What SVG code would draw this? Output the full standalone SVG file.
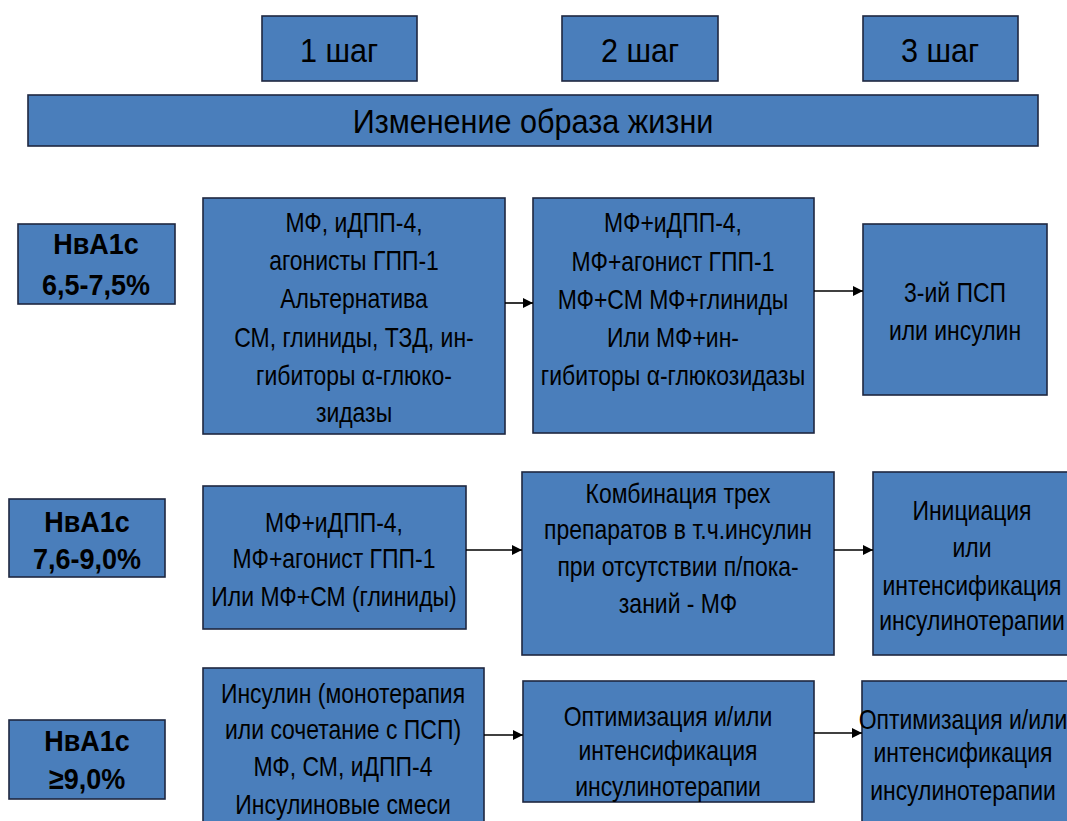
<svg xmlns="http://www.w3.org/2000/svg" width="1067" height="821" viewBox="0 0 1067 821">
<defs>
<style>
.box{fill:#4a7ebb;stroke:#1e2740;stroke-width:1.6}
.t{font-family:"Liberation Sans",Arial,sans-serif;fill:#000;text-anchor:middle;dominant-baseline:central}
.s{font-size:32px}
.l{font-size:34px}
.m{font-size:28px}
.b{font-size:30px;font-weight:bold}
.c{stroke:#000;stroke-width:1.6;fill:none;marker-end:url(#ah)}
</style>
<marker id="ah" viewBox="0 0 10 10" refX="10" refY="5" markerWidth="10" markerHeight="10" markerUnits="userSpaceOnUse" orient="auto">
<path d="M0,0 L10,5 L0,10 z" fill="#000"/>
</marker>
</defs>
<rect width="1067" height="821" fill="#fff"/>
<g id="step1"><rect class="box" x="262" y="16" width="155" height="65"/><g transform="translate(339,0) scale(0.9,1)"><text class="t l" x="0" y="50">1 шаг</text></g></g>
<g id="step2"><rect class="box" x="562" y="16" width="156" height="65"/><g transform="translate(640,0) scale(0.9,1)"><text class="t l" x="0" y="50">2 шаг</text></g></g>
<g id="step3"><rect class="box" x="863" y="16" width="155" height="65"/><g transform="translate(940,0) scale(0.9,1)"><text class="t l" x="0" y="50">3 шаг</text></g></g>
<g id="lifestyle"><rect class="box" x="28" y="95" width="1010" height="51"/><g transform="translate(533,0) scale(0.9,1)"><text class="t l" x="0" y="121">Изменение образа жизни</text></g></g>

<g id="hba1"><rect class="box" x="18" y="224" width="157" height="80"/><g transform="translate(96,0) scale(0.9,1)"><text class="t b" x="0" y="244">НвА1с</text><text class="t b" x="0" y="284">6,5-7,5%</text></g></g>
<g id="r1s1"><rect class="box" x="203" y="198" width="302" height="236"/>
<g transform="translate(354,0) scale(0.82,1)">
<text class="t m" x="0" y="222">МФ, иДПП-4,</text>
<text class="t m" x="0" y="260">агонисты ГПП-1</text>
<text class="t m" x="0" y="298">Альтернатива</text>
<text class="t m" x="0" y="337">СМ, глиниды, ТЗД, ин-</text>
<text class="t m" x="0" y="375">гибиторы α-глюко-</text>
<text class="t m" x="0" y="412">зидазы</text></g></g>
<g id="r1s2"><rect class="box" x="533" y="198" width="281" height="235"/>
<g transform="translate(673,0) scale(0.82,1)">
<text class="t m" x="0" y="222">МФ+иДПП-4,</text>
<text class="t m" x="0" y="261">МФ+агонист ГПП-1</text>
<text class="t m" x="0" y="299">МФ+СМ МФ+глиниды</text>
<text class="t m" x="0" y="337">Или МФ+ин-</text>
<text class="t m" x="0" y="375">гибиторы α-глюкозидазы</text></g></g>
<g id="r1s3"><rect class="box" x="863" y="224" width="184" height="171"/>
<g transform="translate(955,0) scale(0.82,1)">
<text class="t m" x="0" y="292">3-ий ПСП</text>
<text class="t m" x="0" y="330">или инсулин</text></g></g>

<g id="hba2"><rect class="box" x="9" y="499" width="156" height="78"/><g transform="translate(87,0) scale(0.9,1)"><text class="t b" x="0" y="521">НвА1с</text><text class="t b" x="0" y="558">7,6-9,0%</text></g></g>
<g id="r2s1"><rect class="box" x="203" y="486" width="263" height="143"/>
<g transform="translate(334,0) scale(0.82,1)">
<text class="t m" x="0" y="522">МФ+иДПП-4,</text>
<text class="t m" x="0" y="558">МФ+агонист ГПП-1</text>
<text class="t m" x="0" y="596">Или МФ+СМ (глиниды)</text></g></g>
<g id="r2s2"><rect class="box" x="522" y="472" width="312" height="183"/>
<g transform="translate(678,0) scale(0.82,1)">
<text class="t m" x="0" y="493">Комбинация трех</text>
<text class="t m" x="0" y="529">препаратов в т.ч.инсулин</text>
<text class="t m" x="0" y="566">при отсутствии п/пока-</text>
<text class="t m" x="0" y="603">заний - МФ</text></g></g>
<g id="r2s3"><rect class="box" x="873" y="472" width="204" height="183"/>
<g transform="translate(972,0) scale(0.82,1)">
<text class="t m" x="0" y="510">Инициация</text>
<text class="t m" x="0" y="547">или</text>
<text class="t m" x="0" y="585">интенсификация</text>
<text class="t m" x="0" y="620">инсулинотерапии</text></g></g>

<g id="hba3"><rect class="box" x="9" y="720" width="156" height="79"/><g transform="translate(87,0) scale(0.9,1)"><text class="t b" x="0" y="740">НвА1с</text><text class="t b" x="0" y="779">≥9,0%</text></g></g>
<g id="r3s1"><rect class="box" x="203" y="668" width="281" height="165"/>
<g transform="translate(343,0) scale(0.82,1)">
<text class="t m" x="0" y="693">Инсулин (монотерапия</text>
<text class="t m" x="0" y="729">или сочетание с ПСП)</text>
<text class="t m" x="0" y="766">МФ, СМ, иДПП-4</text>
<text class="t m" x="0" y="804">Инсулиновые смеси</text></g></g>
<g id="r3s2"><rect class="box" x="523" y="681" width="291" height="121"/>
<g transform="translate(668,0) scale(0.82,1)">
<text class="t m" x="0" y="716">Оптимизация и/или</text>
<text class="t m" x="0" y="750">интенсификация</text>
<text class="t m" x="0" y="786">инсулинотерапии</text></g></g>
<g id="r3s3"><rect class="box" x="862" y="681" width="215" height="150"/>
<g transform="translate(963,0) scale(0.82,1)">
<text class="t m" x="0" y="719">Оптимизация и/или</text>
<text class="t m" x="0" y="752">интенсификация</text>
<text class="t m" x="0" y="790">инсулинотерапии</text></g></g>

<g id="connectors">
<line class="c" x1="505" y1="303" x2="533" y2="303"/>
<line class="c" x1="814" y1="291" x2="863" y2="291"/>
<line class="c" x1="466" y1="550" x2="522" y2="550"/>
<line class="c" x1="834" y1="550" x2="873" y2="550"/>
<line class="c" x1="484" y1="735" x2="523" y2="735"/>
<line class="c" x1="814" y1="733" x2="862" y2="733"/>
</g>
</svg>
